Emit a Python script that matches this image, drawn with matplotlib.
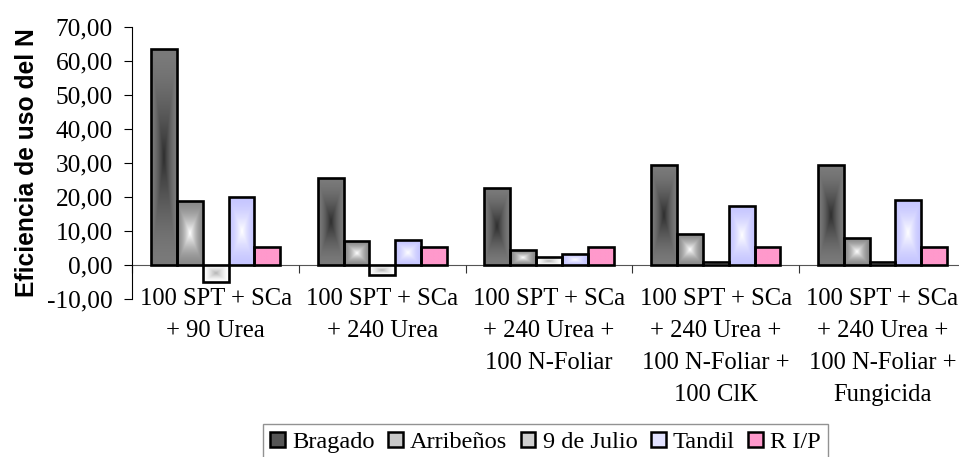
import numpy as np
import matplotlib
matplotlib.use("Agg")
import matplotlib.pyplot as plt
from matplotlib.colors import to_rgb
from matplotlib.patches import Patch

# data
categories = [
    "100 SPT + SCa\n+ 90 Urea",
    "100 SPT + SCa\n+ 240 Urea",
    "100 SPT + SCa\n+ 240 Urea +\n100 N-Foliar",
    "100 SPT + SCa\n+ 240 Urea +\n100 N-Foliar +\n100 ClK",
    "100 SPT + SCa\n+ 240 Urea +\n100 N-Foliar +\nFungicida",
]
series_names = ["Bragado", "Arribeños", "9 de Julio", "Tandil", "R I/P"]
bragado = [63.5, 25.5, 22.7, 29.2, 29.2]
arribenos = [18.6, 7.0, 4.3, 9.1, 7.8]
nueve_julio = [-5.2, -2.9, 2.2, 0.9, 0.9]
tandil = [20.0, 7.2, 3.2, 17.4, 18.9]
rip = [5.2, 5.2, 5.2, 5.2, 5.2]
yticks = [-10, 0, 10, 20, 30, 40, 50, 60, 70]

# (edge colour, centre colour) for the "from centre" fills
fills = [("#7a7a7a", "#2e2e2e"), ("#8a8a8a", "#ffffff"), ("#ffffff", "#b4b4b4"),
         ("#c6c6ff", "#ffffff"), ("#ff99cc", "#ff99cc")]
legend_cols = ["#555555", "#c8c8c8", "#cfcfcf", "#e2e2ff", "#ff99cc"]

serif = ["Liberation Serif", "DejaVu Serif"]
plt.rcParams["font.family"] = serif

fig = plt.figure(figsize=(9.59, 4.57), dpi=100)
ax = fig.add_axes([132.3 / 959, 1 - 298.7 / 457, 833.5 / 959, 272 / 457])

all_vals = [bragado, arribenos, nueve_julio, tandil, rip]
x = np.arange(len(categories))
w = 0.155

g = np.linspace(-1, 1, 60)
gx, gy = np.meshgrid(g, g)
tt = np.maximum(np.abs(gx), np.abs(gy))
mix = (1 - tt) ** 1.6

for k, vals in enumerate(all_vals):
    pos = x + (k - 2) * w
    bars = ax.bar(pos, vals, w, facecolor="none", edgecolor="black",
                  linewidth=1.9, zorder=3)
    e = np.array(to_rgb(fills[k][0]))
    c = np.array(to_rgb(fills[k][1]))
    img = e[None, None, :] + (c - e)[None, None, :] * mix[:, :, None]
    for b in bars:
        x0 = b.get_x()
        y0 = b.get_y()
        im = ax.imshow(img, extent=(x0, x0 + b.get_width(), y0, y0 + b.get_height()),
                       aspect="auto", zorder=2, interpolation="bilinear")
        im.set_clip_path(b)

ax.set_xlim(-0.5, 4.5)
ax.set_ylim(-10, 70)
ax.set_yticks(yticks)
ax.set_yticklabels([f"{v:.2f}".replace(".", ",") for v in yticks], fontsize=18.3)
ax.tick_params(axis="y", length=6, width=0.8, pad=8)

ax.spines["top"].set_visible(False)
ax.spines["right"].set_visible(False)
ax.spines["bottom"].set_position(("data", 0))
ax.spines["bottom"].set_color("#555555")
ax.spines["bottom"].set_zorder(1)
ax.set_xticks(np.arange(-0.5, 5.0, 1.0))
ax.set_xticklabels([])
ax.tick_params(axis="x", which="major", length=6, width=0.8, color="#333333")
ax.set_xticks(x, minor=True)
ax.set_xticklabels(categories, minor=True, fontsize=17.7, linespacing=1.58, va="top")
ax.tick_params(axis="x", which="minor", length=0, pad=17)

ax.set_ylabel("Eficiencia de uso del N", fontsize=17.7, fontweight="bold",
              family=["Liberation Sans", "DejaVu Sans"], labelpad=6)

handles = [Patch(facecolor=legend_cols[k], edgecolor="black", linewidth=1.8)
           for k in range(5)]
leg = fig.legend(handles, series_names, loc="upper left",
                 bbox_to_anchor=(262.7 / 959, 1 - 424.3 / 457), ncol=5,
                 fontsize=17.6, frameon=True, fancybox=False,
                 handlelength=0.6, handleheight=0.6, handletextpad=0.3,
                 columnspacing=0.55, borderpad=0.3, borderaxespad=0)
leg.get_frame().set_edgecolor("#777777")
leg.get_frame().set_linewidth(1.0)

fig.savefig("out.png", dpi=100)
